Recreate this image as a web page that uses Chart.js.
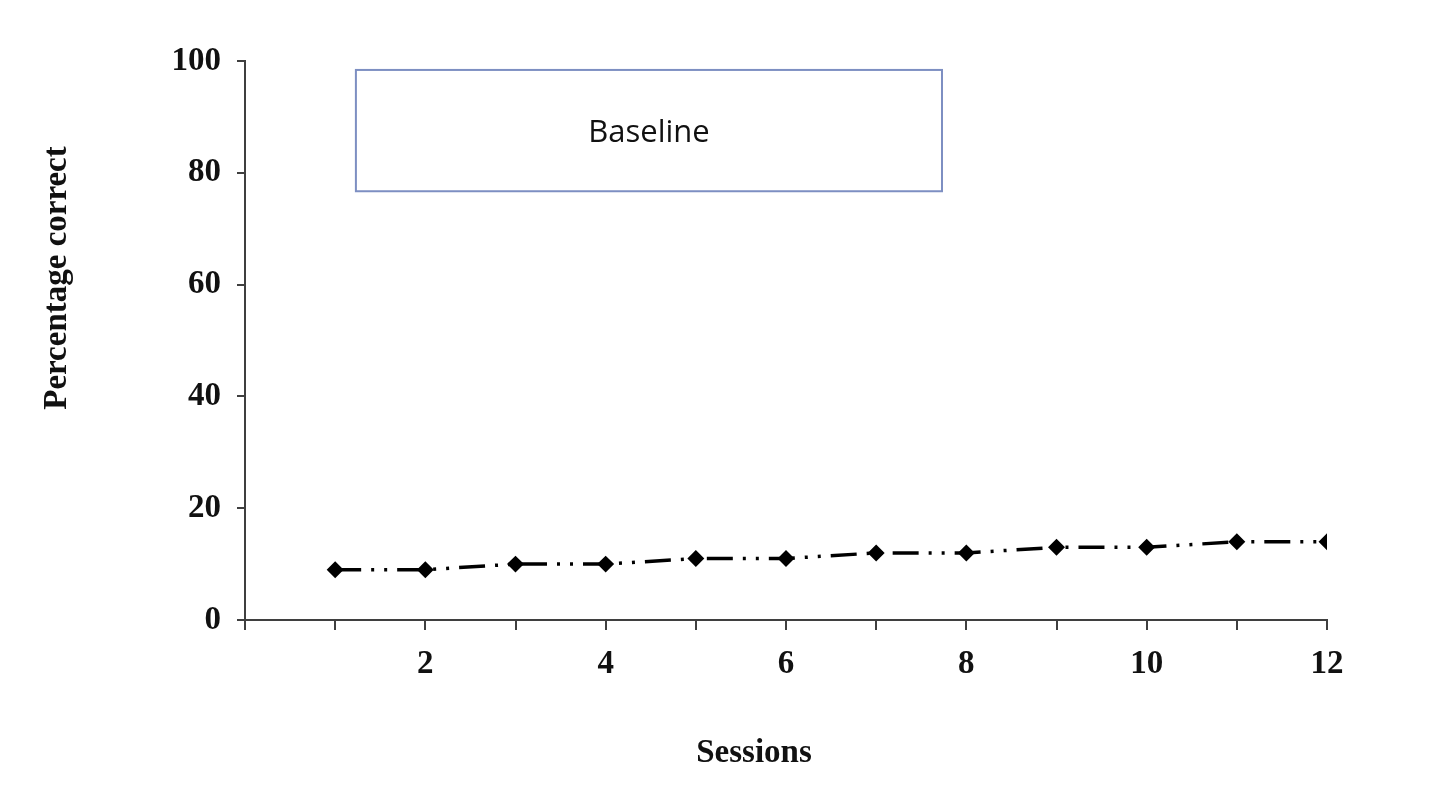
<!DOCTYPE html>
<html>
<head>
<meta charset="utf-8">
<script src="https://cdn.jsdelivr.net/npm/chart.js@4"></script>
<style>
  html, body { margin: 0; padding: 0; background: #fff; }
  #wrap { width: 1440px; height: 806px; position: relative; }
</style>
</head>
<body>
<div id="wrap"><canvas id="myChart"></canvas></div>
<script>
const sessions = [1, 2, 3, 4, 5, 6, 7, 8, 9, 10, 11, 12];
const percentCorrect = [9, 9, 10, 10, 11, 11, 12, 12, 13, 13, 14, 14];
const yTicks = [0, 20, 40, 60, 80, 100];
const xLabelTicks = [2, 4, 6, 8, 10, 12];
const phaseLabel = 'Baseline';
const yTitle = 'Percentage correct';
const xTitle = 'Sessions';

const serif = '"Liberation Serif", "Times New Roman", serif';
const axisColor = '#3f3f3f';

// phase box + axis titles, drawn on top of the chart
const extras = {
  id: 'extras',
  afterDraw(chart) {
    const {ctx, scales: {x, y}} = chart;
    ctx.save();
    // phase box, placed in data units
    let left = x.getPixelForValue(1.23), right = x.getPixelForValue(7.73);
    let top = y.getPixelForValue(98.4), bottom = y.getPixelForValue(76.7);
    ctx.strokeStyle = '#7d8fc2';
    ctx.lineWidth = 2;
    ctx.strokeRect(left, top, right - left, bottom - top);
    ctx.fillStyle = '#111';
    ctx.font = '500 31px "Open Sans", sans-serif';
    ctx.textAlign = 'center';
    ctx.textBaseline = 'middle';
    ctx.fillText(phaseLabel, (left + right) / 2, (top + bottom) / 2 + 3);

    ctx.font = 'bold 33px ' + serif;
    ctx.fillStyle = '#111';
    ctx.fillText(xTitle, 754, 753);
    ctx.translate(57, 278);
    ctx.rotate(-Math.PI / 2);
    ctx.fillText(yTitle, 0, 0);
    ctx.restore();
  }
};

new Chart(document.getElementById('myChart'), {
  type: 'line',
  data: {
    datasets: [{
      label: 'Baseline',
      data: sessions.map((s, i) => ({x: s, y: percentCorrect[i]})),
      borderColor: '#000',
      backgroundColor: '#000',
      borderWidth: 3.5,
      borderDash: [26, 10, 3, 10, 3, 10],
      pointStyle: 'rectRot',
      pointRadius: 6,
      pointBackgroundColor: '#000',
      pointBorderColor: '#000',
      tension: 0,
    }]
  },
  options: {
    responsive: true,
    maintainAspectRatio: false,
    animation: false,
    layout: { padding: { left: 0, top: 61, right: 113, bottom: 0 } },
    plugins: {
      legend: { display: false },
      tooltip: { enabled: false },
    },
    scales: {
      x: {
        type: 'linear',
        min: 0,
        max: 12,
        afterFit(scale) { scale.height = 186; },
        grid: { drawOnChartArea: false, drawTicks: true, tickLength: 10, color: axisColor, lineWidth: 2 },
        border: { display: true, color: axisColor, width: 2 },
        ticks: {
          stepSize: 1,
          autoSkip: false,
          maxRotation: 0,
          padding: 15,
          color: '#111',
          font: { family: serif, size: 33, weight: 'bold' },
          callback: v => xLabelTicks.includes(v) ? String(v) : '',
        },
      },
      y: {
        min: 0,
        max: 100,
        afterFit(scale) { scale.width = 245; },
        afterBuildTicks(scale) { scale.ticks = yTicks.map(v => ({value: v})); },
        grid: { drawOnChartArea: false, drawTicks: true, tickLength: 8, color: axisColor, lineWidth: 2 },
        border: { display: true, color: axisColor, width: 2 },
        ticks: {
          padding: 16,
          color: '#111',
          font: { family: serif, size: 33, weight: 'bold' },
        },
      },
    },
  },
  plugins: [extras],
});
</script>
</body>
</html>
